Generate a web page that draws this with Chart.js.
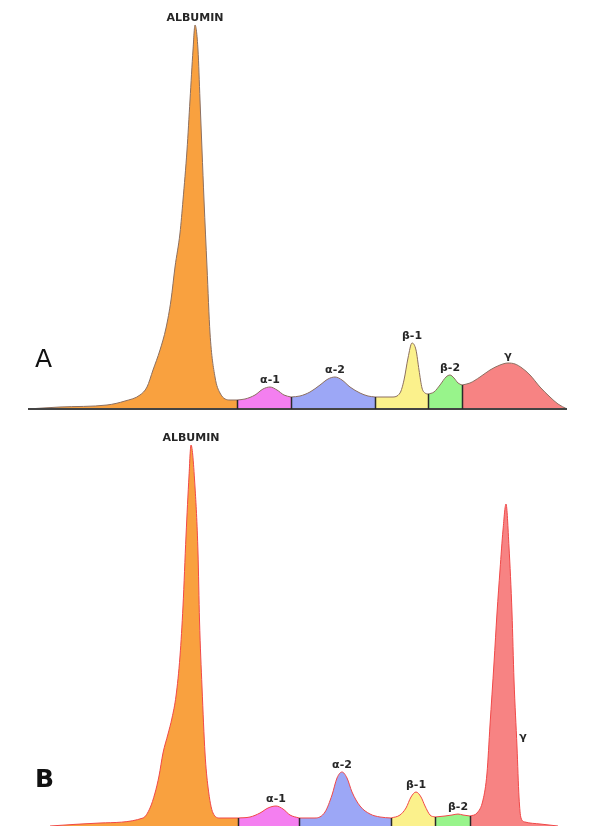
<!DOCTYPE html>
<html>
<head>
<meta charset="utf-8">
<script src="https://cdn.jsdelivr.net/npm/chart.js@4/dist/chart.umd.min.js"></script>
<style>
  html,body{margin:0;padding:0;background:#fff;}
  body{width:600px;height:827px;position:relative;overflow:hidden;}
  #wrapA{position:absolute;left:0;top:0;width:600px;height:420px;}
  #wrapB{position:absolute;left:0;top:420px;width:600px;height:407px;}
</style>
</head>
<body>
<div id="wrapA"><canvas id="chartA" width="600" height="420"></canvas></div>
<div id="wrapB"><canvas id="chartB" width="600" height="407"></canvas></div>
<script>
// ---- Data (x = migration distance, y = intensity) ----
const fractionNames = ['ALBUMIN', 'α-1', 'α-2', 'β-1', 'β-2', 'γ'];

// Panel A
const albuminA = [[0,0],[32,2],[79,4],[97,8],[112,14],[119,22],[125,39],[132,59],[138,81],[143,109],[147,142],[152,176],[155,209],[159,259],[162,309],[165,359],[167,384],[170,359],[172,309],[174,259],[176,209],[179,142],[182,76],[187,32],[192,16],[202,9],[209,9]];
const alpha1A = [[209,9],[217,10],[227,14],[235,20],[242,22],[249,19],[256,14],[263,12]];
const alpha2A = [[263,12],[272,13],[282,17],[292,24],[300,30],[307,32],[314,29],[322,22],[332,16],[340,13],[347,12]];
const beta1A = [[347,12],[364,12],[372,16],[376,29],[380,51],[384,66],[388,59],[391,39],[394,21],[397,16],[400,15]];
const beta2A = [[400,15],[406,17],[412,24],[418,32],[422,34],[426,31],[430,26],[434,24]];
const gammaA = [[434,24],[442,26],[452,32],[462,39],[472,44],[480,46],[487,45],[494,41],[502,34],[512,22],[522,12],[530,5],[539,0]];

// Panel B
const albuminB = [[22,0],[72,3],[115,8],[122,18],[127,33],[131,50],[135,73],[140,92],[144,108],[148,130],[152,170],[155,220],[158,290],[161,350],[163,381],[167,339],[170,273],[171.5,206],[174,139],[177,73],[180,39],[185,13],[192,8],[210,8]];
const alpha1B = [[210,8],[222,9],[232,13],[240,18],[248,20],[255,17],[262,11],[271,8]];
const alpha2B = [[271,8],[287,8],[297,14],[304,31],[309,48],[314,54],[319,48],[324,34],[332,20],[342,12],[352,9],[363,8]];
const beta1B = [[363,8],[372,11],[378,18],[383,29],[388,34],[393,29],[397,20],[402,11],[407,9]];
const beta2B = [[407,9],[417,10],[424,11],[430,12],[435,11],[442,10]];
const gammaB = [[442,10],[449,13],[455,26],[459,53],[462,101],[466,163],[469,213],[472,256],[475,296],[478,322],[481,279],[484,213],[486,146],[489,79],[491,29],[493,8],[497,4],[512,2],[530,0]];

const segmentsA = [albuminA, alpha1A, alpha2A, beta1A, beta2A, gammaA];
const segmentsB = [albuminB, alpha1B, alpha2B, beta1B, beta2B, gammaB];

// ---- Styles ----
const fillColors = ['#f9a13f', '#f47ff0', '#9ca7f6', '#fbf18c', '#98f48b', '#f78383'];

const fractionPlugin = {
  id: 'fractions',
  afterDatasetsDraw(chart, args, opts) {
    const ctx = chart.ctx;
    const xs = chart.scales.x, ys = chart.scales.y;
    const area = chart.chartArea;
    ctx.save();
    if (opts.baseline) {
      ctx.strokeStyle = '#444';
      ctx.lineWidth = 2;
      ctx.beginPath();
      ctx.moveTo(area.left, ys.getPixelForValue(0));
      ctx.lineTo(area.right, ys.getPixelForValue(0));
      ctx.stroke();
    }
    chart.data.datasets.forEach((ds, i) => {
      const pts = ds.data;
      if (i > 0) {
        const p = pts[0];
        const px = Math.round(xs.getPixelForValue(p.x)) + 0.5;
        ctx.strokeStyle = '#2a2a2a';
        ctx.lineWidth = 1.5;
        ctx.beginPath();
        ctx.moveTo(px, ys.getPixelForValue(0));
        ctx.lineTo(px, ys.getPixelForValue(p.y));
        ctx.stroke();
      }
      let peak = pts[0];
      pts.forEach(p => { if (p.y > peak.y) peak = p; });
      ctx.fillStyle = '#262626';
      ctx.font = 'bold 11px "DejaVu Sans", Verdana, sans-serif';
      ctx.textAlign = 'center';
      ctx.textBaseline = 'alphabetic';
      let lx = xs.getPixelForValue(peak.x);
      let ly = ys.getPixelForValue(peak.y) - 4;
      if (opts.side && opts.side.index === i) {
        lx += opts.side.dx;
        ly = ys.getPixelForValue(peak.y * opts.side.frac) + 4;
      }
      ctx.fillText(ds.label, lx, ly);
    });
    ctx.fillStyle = '#111';
    ctx.font = (opts.letterWeight || 'normal') + ' 25px "DejaVu Sans", sans-serif';
    ctx.textAlign = 'left';
    ctx.fillText(opts.letter, opts.letterX, opts.letterY);
    ctx.restore();
  }
};

function makeChart(id, segments, stroke, pad, pluginOpts) {
  const datasets = segments.map((seg, i) => ({
    label: fractionNames[i],
    data: seg.map(p => ({x: p[0], y: p[1]})),
    backgroundColor: fillColors[i],
    borderColor: stroke,
    borderWidth: 1,
    fill: 'origin',
    pointRadius: 0,
    cubicInterpolationMode: 'monotone'
  }));
  return new Chart(document.getElementById(id), {
    type: 'line',
    data: { datasets },
    options: {
      responsive: false,
      animation: false,
      devicePixelRatio: 1,
      layout: { padding: pad },
      plugins: { legend: { display: false }, tooltip: { enabled: false }, fractions: pluginOpts },
      scales: {
        x: { type: 'linear', min: 0, max: 539, display: false },
        y: { min: 0, max: 400, display: false }
      }
    },
    plugins: [fractionPlugin]
  });
}

makeChart('chartA', segmentsA, '#8c6f60', {left: 28, right: 33, top: 9, bottom: 11},
  {baseline: true, letter: 'A', letterX: 35, letterY: 367, letterWeight: 'normal'});
makeChart('chartB', segmentsB, '#f04848', {left: 28, right: 33, top: 6, bottom: 1},
  {baseline: false, letter: 'B', letterX: 35, letterY: 367, letterWeight: 'bold', side: {index: 5, dx: 17, frac: 0.28}});
</script>
</body>
</html>
